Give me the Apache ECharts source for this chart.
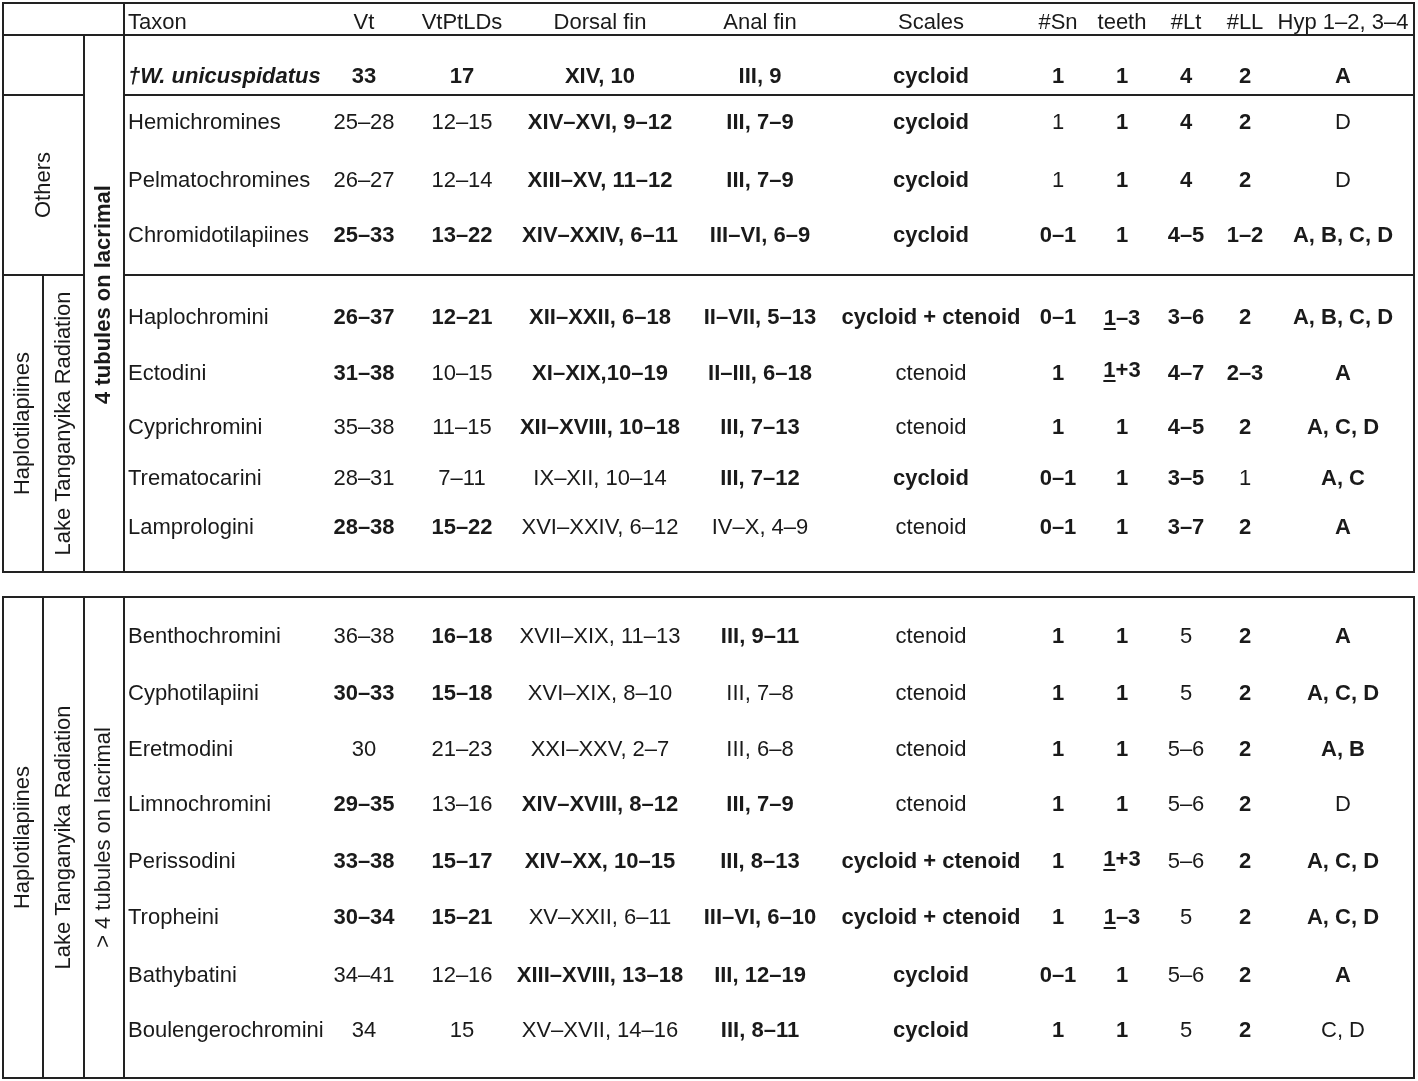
<!DOCTYPE html>
<html>
<head>
<meta charset="utf-8">
<title>Character table</title>
<script src="https://cdn.jsdelivr.net/npm/echarts@6.0.0/dist/echarts.min.js"></script>
<style>
  html, body { margin: 0; padding: 0; background: #fff; }
  #main { width: 1418px; height: 1081px; }
</style>
</head>
<body>
<div id="main"></div>
<script>
// ---- table content ----
const headers = ['Taxon', 'Vt', 'VtPtLDs', 'Dorsal fin', 'Anal fin', 'Scales', '#Sn', 'teeth', '#Lt', '#LL', 'Hyp 1–2, 3–4'];

const taxa = ['†W. unicuspidatus', 'Hemichromines', 'Pelmatochromines', 'Chromidotilapiines',
  'Haplochromini', 'Ectodini', 'Cyprichromini', 'Trematocarini', 'Lamprologini',
  'Benthochromini', 'Cyphotilapiini', 'Eretmodini', 'Limnochromini', 'Perissodini',
  'Tropheini', 'Bathybatini', 'Boulengerochromini'];

const vt = ['33', '25–28', '26–27', '25–33', '26–37', '31–38', '35–38', '28–31', '28–38',
  '36–38', '30–33', '30', '29–35', '33–38', '30–34', '34–41', '34'];
const vtPtLDs = ['17', '12–15', '12–14', '13–22', '12–21', '10–15', '11–15', '7–11', '15–22',
  '16–18', '15–18', '21–23', '13–16', '15–17', '15–21', '12–16', '15'];
const dorsalFin = ['XIV, 10', 'XIV–XVI, 9–12', 'XIII–XV, 11–12', 'XIV–XXIV, 6–11', 'XII–XXII, 6–18',
  'XI–XIX,10–19', 'XII–XVIII, 10–18', 'IX–XII, 10–14', 'XVI–XXIV, 6–12', 'XVII–XIX, 11–13',
  'XVI–XIX, 8–10', 'XXI–XXV, 2–7', 'XIV–XVIII, 8–12', 'XIV–XX, 10–15', 'XV–XXII, 6–11',
  'XIII–XVIII, 13–18', 'XV–XVII, 14–16'];
const analFin = ['III, 9', 'III, 7–9', 'III, 7–9', 'III–VI, 6–9', 'II–VII, 5–13', 'II–III, 6–18',
  'III, 7–13', 'III, 7–12', 'IV–X, 4–9', 'III, 9–11', 'III, 7–8', 'III, 6–8', 'III, 7–9',
  'III, 8–13', 'III–VI, 6–10', 'III, 12–19', 'III, 8–11'];
const scales = ['cycloid', 'cycloid', 'cycloid', 'cycloid', 'cycloid + ctenoid', 'ctenoid', 'ctenoid',
  'cycloid', 'ctenoid', 'ctenoid', 'ctenoid', 'ctenoid', 'ctenoid', 'cycloid + ctenoid',
  'cycloid + ctenoid', 'cycloid', 'cycloid'];
const sn = ['1', '1', '1', '0–1', '0–1', '1', '1', '0–1', '0–1', '1', '1', '1', '1', '1', '1', '0–1', '1'];
// \u0332 marks an underlined digit
const teeth = ['1', '1', '1', '1', '1\u0332–3', '1\u0332+3', '1', '1', '1', '1', '1', '1', '1',
  '1\u0332+3', '1\u0332–3', '1', '1'];
const lt = ['4', '4', '4', '4–5', '3–6', '4–7', '4–5', '3–5', '3–7', '5', '5', '5–6', '5–6', '5–6', '5', '5–6', '5'];
const ll = ['2', '2', '2', '1–2', '2', '2–3', '2', '1', '2', '2', '2', '2', '2', '2', '2', '2', '2'];
const hyp = ['A', 'D', 'D', 'A, B, C, D', 'A, B, C, D', 'A', 'A, C, D', 'A, C', 'A', 'A', 'A, C, D',
  'A, B', 'D', 'A, C, D', 'A, C, D', 'A', 'C, D'];

// group labels on the left
const groupLabels = ['Others', 'Haplotilapiines', 'Lake Tanganyika Radiation', '4 tubules on lacrimal', '> 4 tubules on lacrimal'];

// which cells are set in bold (Vt ... Hyp), one string per taxon
const boldMask = ['1111111111', '0011101110', '0011101110', '1111111111', '1111111111',
  '1011011111', '0011011111', '0001111101', '1100011111', '0101011011', '1100011011',
  '0000011011', '1011011010', '1111111011', '1101111011', '0011111011', '0001111010'];

// ---- layout ----
// taxon column is a thin slot so its left-aligned text starts at the column line
const colSizes = [40, 41, 40, 2, 194, 88, 108, 168, 152, 190, 64, 64, 64, 54, 142];
const rowKeys = ['header', '_p1', taxa[0], taxa[1], taxa[2], taxa[3], '_p2',
  taxa[4], taxa[5], taxa[6], taxa[7], taxa[8], '_p3',
  taxa[9], taxa[10], taxa[11], taxa[12], taxa[13], taxa[14], taxa[15], taxa[16], '_p4'];
const rowSizes = [40, 16, 36, 56, 60, 50, 31, 52, 60, 48, 54, 44, 59, 56, 58, 54, 56, 58, 54, 62, 48, 23];

const frameCols = ['g1', 'g2', 'g3', 'main'];
const frameColSizes = [40, 41, 40, 1290];
const frameRows = ['hdr', 'w', 'others', 'haplo', 'gap', 'lower'];
const frameRowSizes = [32, 60, 180, 297, 25, 481];

const FONT = 'Liberation Sans, Arial, Helvetica, sans-serif';
const INK = '#1a1a1a';
const LINE = { color: 'transparent', borderColor: '#222', borderWidth: 2 };

const colKeys = ['g1', 'g2', 'g3', 'Taxon', '_sp'].concat(headers.slice(1));
const columns = [vt, vtPtLDs, dorsalFin, analFin, scales, sn, teeth, lt, ll, hyp];

// underline drawn as a thin band at the bottom of the rich token box
const underline = {
  fontFamily: FONT, fontSize: 22, fontWeight: 'bold', color: INK,
  backgroundColor: {
    type: 'linear', x: 0, y: 0, x2: 0, y2: 1,
    colorStops: [
      { offset: 0, color: 'rgba(0,0,0,0)' },
      { offset: 0.9, color: 'rgba(0,0,0,0)' },
      { offset: 0.9, color: INK },
      { offset: 1, color: INK }
    ]
  }
};
const plainTok = { fontFamily: FONT, fontSize: 22, fontWeight: 'bold', color: INK };
const toRich = s => s.replace(/(.)\u0332(.*)/, '{u|$1}{p|$2}');

// text cells
const cells = [];
headers.forEach((h, j) => {
  cells.push({
    coord: [h, 'header'],
    value: h,
    label: j === 0 ? { align: 'left' } : {}
  });
});
taxa.forEach((t, i) => {
  cells.push({
    coord: ['Taxon', t],
    value: t,
    label: i === 0
      ? { align: 'left', fontWeight: 'bold', fontStyle: 'italic' }
      : { align: 'left' }
  });
  columns.forEach((col, j) => {
    const label = { fontWeight: boldMask[i][j] === '1' ? 'bold' : 'normal' };
    let value = col[i];
    if (value.indexOf('\u0332') >= 0) {
      // rich text sits higher in the cell, push it back down
      value = toRich(value);
      Object.assign(label, { rich: { u: underline, p: plainTok }, padding: [16, 0, 0, 0] });
    }
    cells.push({ coord: [headers[j + 1], t], value: value, label: label });
  });
});

// frame cells (borders + rotated group labels)
const rot = { rotate: 90 };
const frameCells = [
  { coord: [['g1', 'g3'], 'hdr'], mergeCells: true },
  { coord: ['main', 'hdr'] },
  { coord: [['g1', 'g2'], 'w'], mergeCells: true },
  { coord: ['g3', ['w', 'haplo']], mergeCells: true, value: groupLabels[3],
    label: { rotate: 90, fontWeight: 'bold', padding: [0, 0, 0, 18] } },
  { coord: [['g1', 'g2'], 'others'], mergeCells: true, value: groupLabels[0], label: rot },
  { coord: ['g1', 'haplo'], value: groupLabels[1], label: rot },
  { coord: ['g2', 'haplo'], value: groupLabels[2], label: rot },
  { coord: ['main', 'w'] },
  { coord: ['main', 'others'] },
  { coord: ['main', 'haplo'] },
  { coord: ['g1', 'lower'], value: groupLabels[1], label: rot },
  { coord: ['g2', 'lower'], value: groupLabels[2], label: rot },
  { coord: ['g3', 'lower'], value: groupLabels[4], label: rot },
  { coord: ['main', 'lower'] }
].map(c => Object.assign({ itemStyle: LINE }, c));

const labelBase = { fontFamily: FONT, fontSize: 22, color: INK, overflow: 'none' };
const noBox = { color: 'transparent', borderWidth: 0 };

const option = {
  backgroundColor: '#fff',
  matrix: [
    {
      left: 3, top: 3, width: 1411, height: 1075,
      z: 1,
      backgroundStyle: { color: 'transparent', borderWidth: 0 },
      x: { show: false, data: frameCols.map((k, i) => ({ value: k, size: frameColSizes[i] })) },
      y: { show: false, data: frameRows.map((k, i) => ({ value: k, size: frameRowSizes[i] })) },
      body: {
        data: frameCells,
        itemStyle: noBox,
        label: labelBase
      }
    },
    {
      left: 3, top: 3, width: 1411, height: 1075,
      z: 5,
      backgroundStyle: { color: 'transparent', borderWidth: 0 },
      x: { show: false, data: colKeys.map((k, i) => ({ value: k, size: colSizes[i] })) },
      y: { show: false, data: rowKeys.map((k, i) => ({ value: k, size: rowSizes[i] })) },
      body: {
        data: cells,
        itemStyle: noBox,
        label: labelBase
      }
    }
  ]
};

const chart = echarts.init(document.getElementById('main'));
chart.setOption(option);
window.addEventListener('resize', () => chart.resize());
</script>
</body>
</html>
